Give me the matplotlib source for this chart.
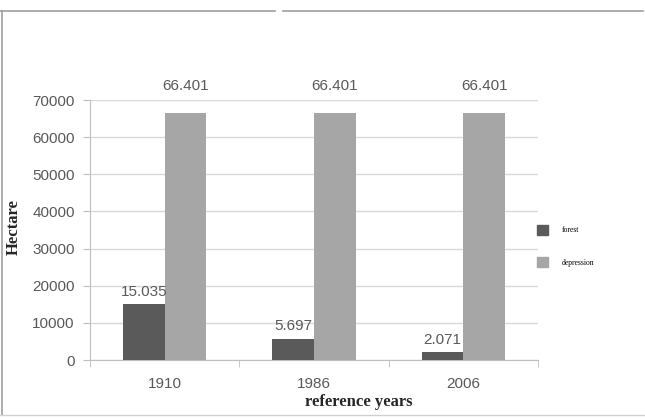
import matplotlib
matplotlib.use('Agg')
import matplotlib.pyplot as plt
from matplotlib.lines import Line2D
from matplotlib.patches import Patch
import numpy as np

years = ['1910', '1986', '2006']
forest = [15035, 5697, 2071]
depression = [66401, 66401, 66401]
forest_labels = ['15.035', '5.697', '2.071']
depression_labels = ['66.401', '66.401', '66.401']
series_names = ['forest', 'depression']

dark = '#5a5a5a'
light = '#a6a6a6'
text_grey = '#595959'

fig = plt.figure(figsize=(6.45, 4.19), dpi=100)
ax = fig.add_axes([90 / 645, 59 / 419, 448 / 645, 260 / 419])

x = np.arange(len(years))
w = 0.28
b1 = ax.bar(x - w / 2, forest, w, color=dark, zorder=3)
b2 = ax.bar(x + w / 2, depression, w, color=light, zorder=3)

for rect, lab in zip(b1, forest_labels):
    ax.annotate(lab, (rect.get_x() + rect.get_width() / 2, rect.get_height()),
                xytext=(0, 4), textcoords='offset points', ha='center', va='bottom',
                fontsize=11, color=text_grey, family='Liberation Sans')
for rect, lab in zip(b2, depression_labels):
    ax.annotate(lab, (rect.get_x() + rect.get_width() / 2, rect.get_height()),
                xytext=(0, 15), textcoords='offset points', ha='center', va='bottom',
                fontsize=11, color=text_grey, family='Liberation Sans')

ax.set_xlim(-0.5, 2.5)
ax.set_ylim(0, 70000)
ax.set_yticks(range(0, 70001, 10000))
ax.set_xticks(x)
ax.set_xticklabels(years)
ax.set_xticks([-0.5, 0.5, 1.5, 2.5], minor=True)
ax.tick_params(axis='x', which='major', length=0, pad=12)
ax.tick_params(axis='x', which='minor', length=5, color='#bfbfbf')
ax.tick_params(axis='y', length=5, color='#bfbfbf', pad=6)
for lab in ax.get_xticklabels() + ax.get_yticklabels():
    lab.set_family('Liberation Sans')
    lab.set_fontsize(11)
    lab.set_color(text_grey)

ax.grid(axis='y', color='#d9d9d9', linewidth=1, zorder=0)
for s in ['top', 'right']:
    ax.spines[s].set_visible(False)
ax.spines['left'].set_color('#bfbfbf')
ax.spines['bottom'].set_color('#bfbfbf')

fig.text(14 / 645, 1 - 227 / 419, 'Hectare', family='Liberation Serif', fontweight='bold',
         fontsize=12, color='#262626', rotation=90, ha='center', va='center')
fig.text(359 / 645, 1 - 402 / 419, 'reference years', family='Liberation Serif',
         fontweight='bold', fontsize=12, color='#262626', ha='center', va='center')

handles = [Patch(color=dark), Patch(color=light)]
fig.legend(handles, series_names, loc='center left', bbox_to_anchor=(530 / 645, 1 - 246 / 419),
           frameon=False, prop={'family': 'Liberation Serif', 'size': 5.5},
           handlelength=1.5, handleheight=1.5, labelspacing=3.0, handletextpad=1.7)

# outer frame
c = '#a0a0a0'
fig.add_artist(Line2D([0, 275 / 645], [1 - 11 / 419] * 2, color=c, lw=1.2))
fig.add_artist(Line2D([283 / 645, 643 / 645], [1 - 11 / 419] * 2, color=c, lw=1.2))
fig.add_artist(Line2D([1.5 / 645] * 2, [1 - 11 / 419, 1 - 415 / 419], color=c, lw=1.2))
fig.add_artist(Line2D([0, 1], [1 - 415 / 419] * 2, color='#d0d0d0', lw=1))

fig.savefig('out.png', dpi=100)
